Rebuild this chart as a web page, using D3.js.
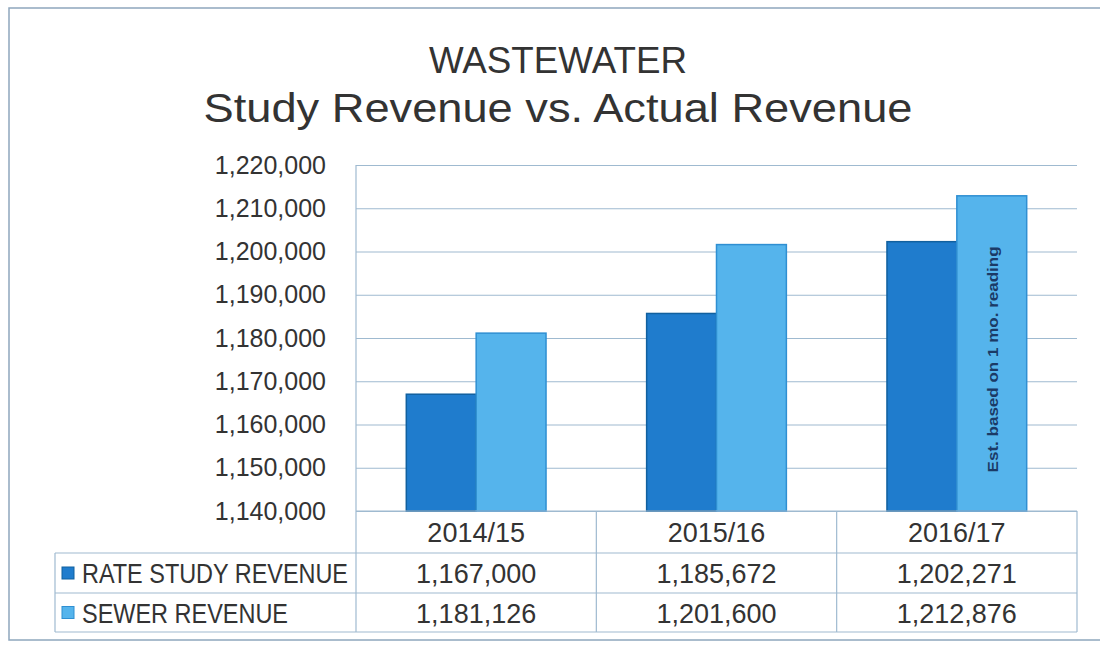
<!DOCTYPE html>
<html>
<head>
<meta charset="utf-8">
<script src="https://cdn.jsdelivr.net/npm/d3@7"></script>
<style>
  body { margin: 0; background: #fff; }
  svg { display: block; }
</style>
</head>
<body>
<svg id="chart"></svg>
<script>
const W = 1100, H = 646;

// data
const categories = ['2014/15', '2015/16', '2016/17'];
const seriesNames = ['RATE STUDY REVENUE', 'SEWER REVENUE'];
const rateStudy = [1167000, 1185672, 1202271];
const sewer = [1181126, 1201600, 1212876];
const yTicks = [1140000, 1150000, 1160000, 1170000, 1180000, 1190000, 1200000, 1210000, 1220000];
const note = 'Est. based on 1 mo. reading';

const colors = ['#1f7ccd', '#55b4ec'];
const strokes = ['#11609f', '#2f8fd2'];
const gridColor = '#9fbad0';
const textColor = '#333333';

const plot = {left: 356, right: 1077, top: 165, bottom: 511};
const rows = [511, 553, 593, 632];
const legendLeft = 55;

const svg = d3.select('#chart').attr('width', W).attr('height', H);

// outer frame
svg.append('rect')
  .attr('x', 9).attr('y', 8)
  .attr('width', W + 10).attr('height', 632)
  .attr('fill', 'none')
  .attr('stroke', '#8ea7bd')
  .attr('stroke-width', 1.5);

// titles
svg.append('text')
  .attr('x', 558).attr('y', 73)
  .attr('text-anchor', 'middle')
  .attr('font-family', 'Liberation Sans, Arial, sans-serif')
  .attr('font-size', 37)
  .attr('fill', textColor)
  .attr('textLength', 258).attr('lengthAdjust', 'spacingAndGlyphs')
  .text('WASTEWATER');
svg.append('text')
  .attr('x', 558).attr('y', 122)
  .attr('text-anchor', 'middle')
  .attr('font-family', 'Liberation Sans, Arial, sans-serif')
  .attr('font-size', 40)
  .attr('fill', textColor)
  .attr('textLength', 709).attr('lengthAdjust', 'spacingAndGlyphs')
  .text('Study Revenue vs. Actual Revenue');

// scales
const y = d3.scaleLinear()
  .domain([1140000, 1220000])
  .range([plot.bottom, plot.top]);

const x0 = d3.scaleBand()
  .domain(categories)
  .range([plot.left, plot.right]);

const x1 = d3.scaleBand()
  .domain(seriesNames)
  .range([0, x0.bandwidth()])
  .paddingOuter(0.72);

// grid + y labels
const yAxis = d3.axisLeft(y)
  .tickValues(yTicks)
  .tickSize(-(plot.right - plot.left))
  .tickPadding(30)
  .tickFormat(d3.format(','));

const yG = svg.append('g')
  .attr('transform', `translate(${plot.left},0)`)
  .call(yAxis);
yG.select('.domain').remove();
yG.selectAll('.tick line')
  .attr('stroke', gridColor)
  .attr('stroke-width', 1.2);
yG.selectAll('.tick text')
  .attr('font-family', 'Liberation Sans, Arial, sans-serif')
  .attr('font-size', 25)
  .attr('fill', textColor);

// bars
const seriesValues = [rateStudy, sewer];
const barG = svg.append('g');
seriesNames.forEach((name, s) => {
  barG.selectAll('.bar-' + s)
    .data(seriesValues[s])
    .enter()
    .append('rect')
    .attr('x', (d, i) => x0(categories[i]) + x1(name))
    .attr('y', d => y(d))
    .attr('width', x1.bandwidth())
    .attr('height', d => y.range()[0] - y(d))
    .attr('fill', colors[s])
    .attr('stroke', strokes[s])
    .attr('stroke-width', 1.5);
});

// note inside the last sewer bar
const noteX = x0(categories[2]) + x1(seriesNames[1]) + x1.bandwidth() / 2;
const noteY = (y(sewer[2]) + y.range()[0]) / 2 + 6;
svg.append('text')
  .attr('transform', `translate(${noteX + 6},${noteY}) rotate(-90)`)
  .attr('text-anchor', 'middle')
  .attr('font-family', 'Liberation Sans, Arial, sans-serif')
  .attr('font-size', 15)
  .attr('font-weight', 'bold')
  .attr('fill', '#1b3a66')
  .attr('textLength', 226).attr('lengthAdjust', 'spacingAndGlyphs')
  .text(note);

// data table
const table = svg.append('g')
  .attr('stroke', gridColor)
  .attr('stroke-width', 1.2);

// left axis line running down through the table
table.append('line')
  .attr('x1', plot.left).attr('x2', plot.left)
  .attr('y1', plot.top).attr('y2', rows[3]);

rows.forEach((r, i) => {
  table.append('line')
    .attr('x1', i === 0 ? plot.left : legendLeft)
    .attr('x2', plot.right)
    .attr('y1', r).attr('y2', r);
});

categories.forEach(c => {
  table.append('line')
    .attr('x1', x0(c) + x0.bandwidth()).attr('x2', x0(c) + x0.bandwidth())
    .attr('y1', rows[0]).attr('y2', rows[3]);
});
table.append('line')
  .attr('x1', legendLeft).attr('x2', legendLeft)
  .attr('y1', rows[1]).attr('y2', rows[3]);

// header row
svg.selectAll('.cat-label')
  .data(categories)
  .enter()
  .append('text')
  .attr('x', d => x0(d) + x0.bandwidth() / 2)
  .attr('y', (rows[0] + rows[1]) / 2 + 10)
  .attr('text-anchor', 'middle')
  .attr('font-family', 'Liberation Sans, Arial, sans-serif')
  .attr('font-size', 27)
  .attr('fill', textColor)
  .text(d => d);

// value rows with legend keys
seriesNames.forEach((name, s) => {
  const rowMid = (rows[s + 1] + rows[s + 2]) / 2;

  svg.append('rect')
    .attr('x', 62).attr('y', rowMid - 6)
    .attr('width', 12).attr('height', 12)
    .attr('fill', colors[s])
    .attr('stroke', strokes[s])
    .attr('stroke-width', 1);

  svg.append('text')
    .attr('x', 82).attr('y', rowMid + 10)
    .attr('font-family', 'Liberation Sans, Arial, sans-serif')
    .attr('font-size', 27)
    .attr('fill', textColor)
    .attr('textLength', s === 0 ? 266 : 206).attr('lengthAdjust', 'spacingAndGlyphs')
    .text(name);

  svg.selectAll('.val-' + s)
    .data(seriesValues[s])
    .enter()
    .append('text')
    .attr('x', (d, i) => x0(categories[i]) + x0.bandwidth() / 2)
    .attr('y', rowMid + 10)
    .attr('text-anchor', 'middle')
    .attr('font-family', 'Liberation Sans, Arial, sans-serif')
    .attr('font-size', 27)
    .attr('fill', textColor)
    .text(d => d3.format(',')(d));
});
</script>
</body>
</html>
